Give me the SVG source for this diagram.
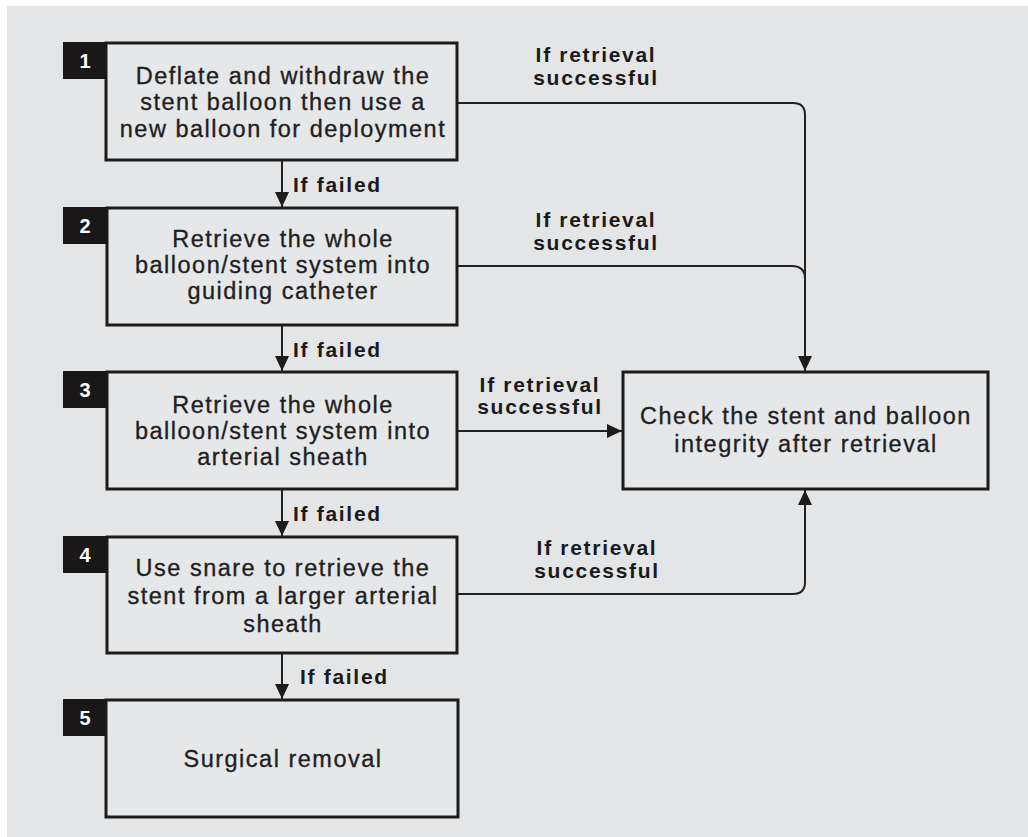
<svg xmlns="http://www.w3.org/2000/svg" width="1028" height="837" viewBox="0 0 1028 837">
<style>
.box{fill:#e6e7e9;stroke:#1c1c1c;stroke-width:3}
.badge{fill:#1a1718}
.num{font-family:"Liberation Sans",Arial,sans-serif;font-weight:bold;font-size:20px;fill:#ffffff;text-anchor:middle}
.t{font-family:"Liberation Sans",Arial,sans-serif;font-size:23.5px;letter-spacing:1.5px;fill:#1f1f1f;stroke:#1f1f1f;stroke-width:0.35px;text-anchor:middle}
.lbl{font-family:"Liberation Sans",Arial,sans-serif;font-weight:bold;font-size:21px;letter-spacing:1.7px;fill:#1a1a1a;text-anchor:middle}
.lblL{font-family:"Liberation Sans",Arial,sans-serif;font-weight:bold;font-size:21px;letter-spacing:1.7px;fill:#1a1a1a}
.c{fill:none;stroke:#222;stroke-width:2}
</style>
<defs>
<marker id="ah" markerUnits="userSpaceOnUse" markerWidth="18" markerHeight="18" viewBox="0 0 18 18" refX="17" refY="9" orient="auto">
<path d="M2,2 L17,9 L2,16 Z" fill="#1c1c1c"/>
</marker>
</defs>
<rect x="0" y="0" width="1028" height="837" fill="#ffffff"/>
<rect x="7" y="6" width="1021" height="831" fill="#e4e5e7"/>

<g id="connectors">
<path class="c" d="M282,160 V207" marker-end="url(#ah)"/>
<path class="c" d="M282,325 V371" marker-end="url(#ah)"/>
<path class="c" d="M282,489 V536" marker-end="url(#ah)"/>
<path class="c" d="M282,653 V699" marker-end="url(#ah)"/>
<path class="c" d="M457,103 H793 Q805,103 805,115 V371" marker-end="url(#ah)"/>
<path class="c" d="M457,266 H792 Q805,266 805,279"/>
<path class="c" d="M457,431 H622" marker-end="url(#ah)"/>
<path class="c" d="M457,594 H793 Q805,594 805,582 V490" marker-end="url(#ah)"/>
<text class="lblL" x="293" y="192">If failed</text>
<text class="lblL" x="293" y="357">If failed</text>
<text class="lblL" x="293" y="521">If failed</text>
<text class="lblL" x="300" y="684">If failed</text>
<text class="lbl" x="596" y="62">If retrieval</text>
<text class="lbl" x="596" y="85">successful</text>
<text class="lbl" x="596" y="227">If retrieval</text>
<text class="lbl" x="596" y="250">successful</text>
<text class="lbl" x="540" y="392">If retrieval</text>
<text class="lbl" x="540" y="414">successful</text>
<text class="lbl" x="597" y="555">If retrieval</text>
<text class="lbl" x="597" y="578">successful</text>
</g>

<g id="node1">
<rect class="box" x="106" y="43" width="351" height="117"/>
<rect class="badge" x="63" y="42" width="44" height="37"/>
<text class="num" x="85" y="68">1</text>
<text class="t" x="283" y="84">Deflate and withdraw the</text>
<text class="t" x="283" y="110">stent balloon then use a</text>
<text class="t" x="283" y="137">new balloon for deployment</text>
</g>

<g id="node2">
<rect class="box" x="107" y="208" width="350" height="117"/>
<rect class="badge" x="63" y="207" width="44" height="37"/>
<text class="num" x="85" y="233">2</text>
<text class="t" x="283" y="247">Retrieve the whole</text>
<text class="t" x="283" y="273">balloon/stent system into</text>
<text class="t" x="283" y="299">guiding catheter</text>
</g>

<g id="node3">
<rect class="box" x="107" y="372" width="350" height="117"/>
<rect class="badge" x="63" y="371" width="44" height="37"/>
<text class="num" x="85" y="397">3</text>
<text class="t" x="283" y="413">Retrieve the whole</text>
<text class="t" x="283" y="439">balloon/stent system into</text>
<text class="t" x="283" y="465">arterial sheath</text>
</g>

<g id="node4">
<rect class="box" x="107" y="537" width="350" height="116"/>
<rect class="badge" x="63" y="536" width="44" height="37"/>
<text class="num" x="85" y="562">4</text>
<text class="t" x="283" y="576">Use snare to retrieve the</text>
<text class="t" x="283" y="604">stent from a larger arterial</text>
<text class="t" x="283" y="632">sheath</text>
</g>

<g id="node5">
<rect class="box" x="106" y="700" width="352" height="117"/>
<rect class="badge" x="63" y="699" width="44" height="37"/>
<text class="num" x="85" y="725">5</text>
<text class="t" x="283" y="767">Surgical removal</text>
</g>

<g id="check">
<rect class="box" x="623" y="372" width="365" height="117"/>
<text class="t" x="806" y="424">Check the stent and balloon</text>
<text class="t" x="806" y="452">integrity after retrieval</text>
</g>
</svg>
